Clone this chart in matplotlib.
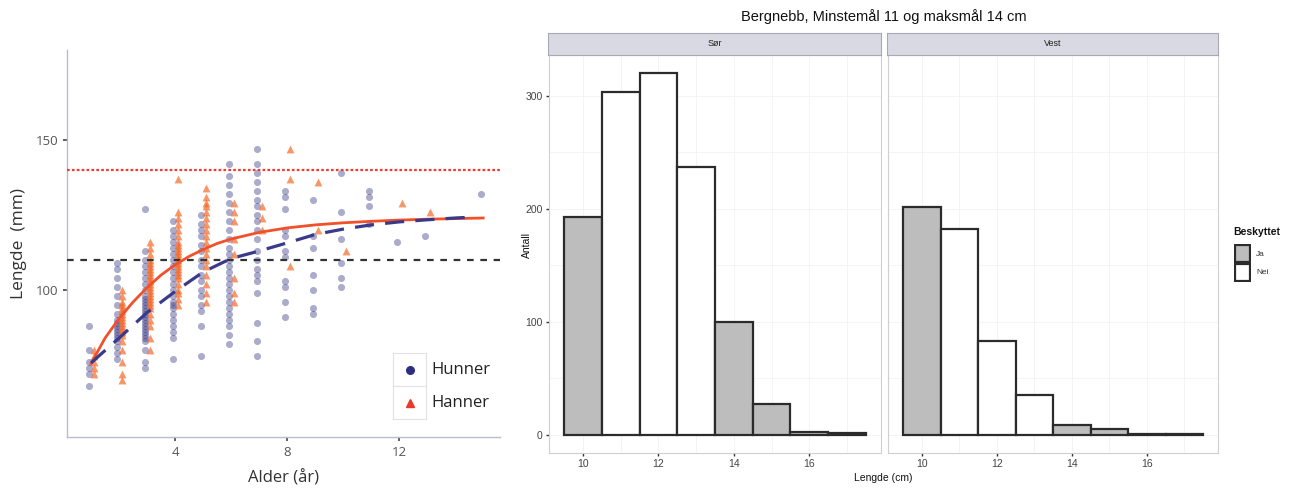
import matplotlib
matplotlib.use("Agg")
import matplotlib.pyplot as plt
from matplotlib.patches import Rectangle

# ---------------- data: left panel (length at age) ----------------
hunner_points = {
    1: [68, 72, 74, 76, 80, 88],
    2: [77, 79, 81, 83, 84, 85, 86, 87, 88, 89, 90, 92, 95, 98, 101, 104, 107, 109],
    3: [74, 76, 80, 83, 84, 85, 86, 87, 88, 89, 90, 91, 92, 93, 94, 95, 96, 97, 98, 100, 102, 104, 106, 108, 110, 113, 127],
    4: [77, 84, 86, 88, 90, 92, 94, 95, 96, 98, 100, 102, 104, 106, 108, 110, 112, 114, 116, 118, 120, 123],
    5: [78, 88, 93, 95, 98, 100, 103, 105, 108, 110, 113, 115, 118, 120, 122, 125],
    6: [82, 85, 88, 90, 92, 94, 96, 98, 100, 102, 104, 106, 108, 110, 112, 114, 117, 120, 123, 126, 129, 132, 135, 138, 142],
    7: [78, 83, 89, 99, 103, 105, 107, 110, 113, 117, 120, 123, 125, 128, 130, 133, 136, 139, 142, 147],
    8: [91, 96, 101, 103, 111, 113, 118, 120, 127, 131, 133],
    9: [92, 94, 100, 105, 114, 118, 130],
    10: [101, 104, 109, 117, 126, 139],
    11: [122, 128, 131, 133],
    12: [116],
    13: [118],
    15: [132],
}
hanner_points = {
    1: [72, 74, 76, 78, 80],
    2: [70, 72, 76, 80, 83, 85, 86, 87, 88, 89, 90, 91, 92, 93, 94, 95, 96, 98, 100],
    3: [80, 84, 88, 90, 92, 94, 95, 96, 97, 98, 99, 100, 101, 102, 103, 104, 105, 106, 107, 108, 109, 110, 112, 114, 116],
    4: [95, 97, 99, 100, 102, 104, 105, 106, 107, 108, 109, 110, 111, 112, 113, 114, 115, 116, 118, 120, 122, 124, 126, 137],
    5: [96, 99, 102, 105, 108, 110, 112, 114, 116, 118, 120, 122, 124, 126, 128, 129, 131, 134],
    6: [96, 99, 104, 112, 117, 123, 126, 129],
    7: [120, 124, 128],
    8: [108, 137, 147],
    9: [120, 136],
    10: [113],
    12: [129],
    13: [126],
}
hanner_curve_age = [1, 1.5, 2, 2.5, 3, 3.5, 4, 4.5, 5, 5.5, 6, 7, 8, 9, 10, 11, 12, 13, 14, 15]
hanner_curve_len = [75.5, 84, 90.5, 96, 100.8, 105, 108.4, 111.2, 113.5, 115.5, 117, 119.2, 120.7, 121.7, 122.4, 122.9, 123.3, 123.6, 123.8, 124]
hunner_curve_age = [1, 2, 3, 4, 5, 6, 7, 8, 9, 10, 11, 12, 13, 14, 14.6]
hunner_curve_len = [75.7, 84, 92.5, 99.5, 106, 110.5, 113, 115.7, 118.5, 120.3, 121.7, 122.7, 123.4, 124, 124.3]
max_size_mm = 140
min_size_mm = 110
legend_labels = ["Hunner", "Hanner"]

# ---------------- data: right panel (histogram counts) ----------------
length_cm = [10, 11, 12, 13, 14, 15, 16, 17]
counts_sor = [193, 303, 320, 237, 100, 27, 3, 2]
counts_vest = [202, 182, 83, 35, 9, 5, 1, 1]
protected = ["Ja", "Nei", "Nei", "Nei", "Ja", "Ja", "Ja", "Ja"]
facets = ["Sør", "Vest"]

W, H = 1296, 490
fig = plt.figure(figsize=(W / 100, H / 100), dpi=100)
fig.patch.set_facecolor("white")

def box(x0, y0, x1, y1):
    return [x0 / W, 1 - y1 / H, (x1 - x0) / W, (y1 - y0) / H]

# ================= left panel =================
ax = fig.add_axes(box(67, 50, 500, 437))
blue = "#2e2e80"
orange = "#f26522"
for age, vals in hunner_points.items():
    ax.scatter([age - 0.08] * len(vals), vals, s=26, marker="o", color=blue,
               alpha=0.4, linewidths=0, zorder=2)
for age, vals in hanner_points.items():
    ax.scatter([age + 0.1] * len(vals), vals, s=32, marker="^", color=orange,
               alpha=0.68, linewidths=0, zorder=3)
ax.axhline(max_size_mm, color="#f03a30", lw=1.6, ls=(0, (1.2, 1.0)), zorder=4)
ax.axhline(min_size_mm, color="#333333", lw=1.6, ls=(0, (3.0, 3.0)), zorder=4)
ax.plot(hanner_curve_age, hanner_curve_len, color="#f0502a", lw=2.0, zorder=5)
ax.plot(hunner_curve_age, hunner_curve_len, color="#3a3a8a", lw=2.3,
        ls=(0, (6, 3.5)), zorder=5)
ax.set_xlim(0.14, 15.6)
ax.set_ylim(51, 180)
ax.set_xticks([4, 8, 12])
ax.set_yticks([100, 150])
for s in ["top", "right"]:
    ax.spines[s].set_visible(False)
for s in ["left", "bottom"]:
    ax.spines[s].set_color("#b8bccc")
    ax.spines[s].set_linewidth(1.0)
ax.tick_params(axis="both", colors="#444444", labelcolor="#555555",
               labelsize=9.5, length=3, width=1.2)
for lab in ax.get_xticklabels() + ax.get_yticklabels():
    lab.set_fontfamily("Open Sans")
ax.set_xlabel("Alder (år)", fontsize=12, color="#333333", family="Open Sans", labelpad=8)
ax.set_ylabel("Lengde  (mm)", fontsize=12.5, color="#333333", family="Open Sans", labelpad=6)

# ggplot-style legend: key boxes with labels to the right
key_specs = [("o", blue, 5.5), ("^", "#e8392a", 6)]
for j, (mk, col, ms) in enumerate(key_specs):
    ytop = 353 + j * 33
    kax = fig.add_axes(box(393, ytop, 426, ytop + 33))
    kax.set_xticks([]); kax.set_yticks([])
    kax.set_xlim(0, 1); kax.set_ylim(0, 1)
    for s in kax.spines.values():
        s.set_color("#e2e2e2")
        s.set_linewidth(0.8)
    kax.plot([0.5], [0.5], marker=mk, color=col, markersize=ms, ls="")
    fig.text(431 / W, 1 - (ytop + 17) / H, legend_labels[j], ha="left",
             va="center", fontsize=12, color="#222222", family="Open Sans")

# ================= right panels =================
fam = ["Liberation Sans", "DejaVu Sans"]
gray_fill = "#bdbdbd"
panels = [(549, 881, counts_sor), (888, 1218, counts_vest)]
for i, (x0, x1, counts) in enumerate(panels):
    pax = fig.add_axes(box(x0, 55, x1, 453))
    pax.set_xlim(9.1, 17.9)
    pax.set_ylim(-16, 336)
    for v in [10, 11, 12, 13, 14, 15, 16, 17]:
        pax.axvline(v, color="#f3f3f3", lw=0.6, zorder=0)
    for v in [0, 50, 100, 150, 200, 250, 300]:
        pax.axhline(v, color="#f3f3f3", lw=0.6, zorder=0)
    colors = [gray_fill if p == "Ja" else "white" for p in protected]
    pax.bar(length_cm, counts, width=1.0, color=colors, edgecolor="#2b2b2b",
            linewidth=1.6, zorder=2)
    for s in pax.spines.values():
        s.set_color("#cfcfcf")
        s.set_linewidth(0.8)
    pax.set_xticks([10, 12, 14, 16])
    pax.set_yticks([0, 100, 200, 300])
    pax.tick_params(axis="both", colors="#333333", labelcolor="#444444",
                    labelsize=7.5, length=2.5, width=1.0, pad=2)
    for lab in pax.get_xticklabels() + pax.get_yticklabels():
        lab.set_fontfamily(fam)
    if i == 1:
        pax.set_yticklabels([])
        pax.tick_params(axis="y", length=0)
    # strip
    sax = fig.add_axes(box(x0 - 1, 33, x1, 55))
    sax.set_xticks([]); sax.set_yticks([])
    sax.set_facecolor("#d8d9e2")
    for s in sax.spines.values():
        s.set_color("#a9a9b2")
        s.set_linewidth(0.8)
    sax.text(0.5, 0.5, facets[i], ha="center", va="center", fontsize=6.5,
             color="#222222", family=fam, transform=sax.transAxes)

fig.text(884 / W, 1 - 17 / H, "Bergnebb, Minstemål 11 og maksmål 14 cm",
         ha="center", va="center", fontsize=10.5, color="#111111", family=fam)
fig.text(527 / W, 1 - 245 / H, "Antall", ha="center", va="center", rotation=90,
         fontsize=7.5, color="#111111", family=fam)
fig.text(883 / W, 1 - 478 / H, "Lengde (cm)", ha="center", va="center",
         fontsize=7.5, color="#111111", family=fam)

# legend for right panels
fig.text(1233 / W, 1 - 232 / H, "Beskyttet", ha="left", va="center",
         fontsize=7.5, color="#111111", family=fam, fontweight="bold")
for j, (lab, fc) in enumerate([("Ja", gray_fill), ("Nei", "white")]):
    ytop = 244 + j * 19
    kax = fig.add_axes(box(1234, ytop, 1251, ytop + 19))
    kax.set_xticks([]); kax.set_yticks([])
    kax.set_facecolor("#f2f2f2")
    for s in kax.spines.values():
        s.set_visible(False)
    kax.add_patch(Rectangle((0.06, 0.04), 0.88, 0.92, transform=kax.transAxes,
                            facecolor=fc, edgecolor="#2b2b2b", linewidth=1.6))
    fig.text(1256 / W, 1 - (ytop + 10) / H, lab, ha="left", va="center",
             fontsize=6, color="#333333", family=fam)

fig.savefig("out.png", dpi=100, facecolor="white")
